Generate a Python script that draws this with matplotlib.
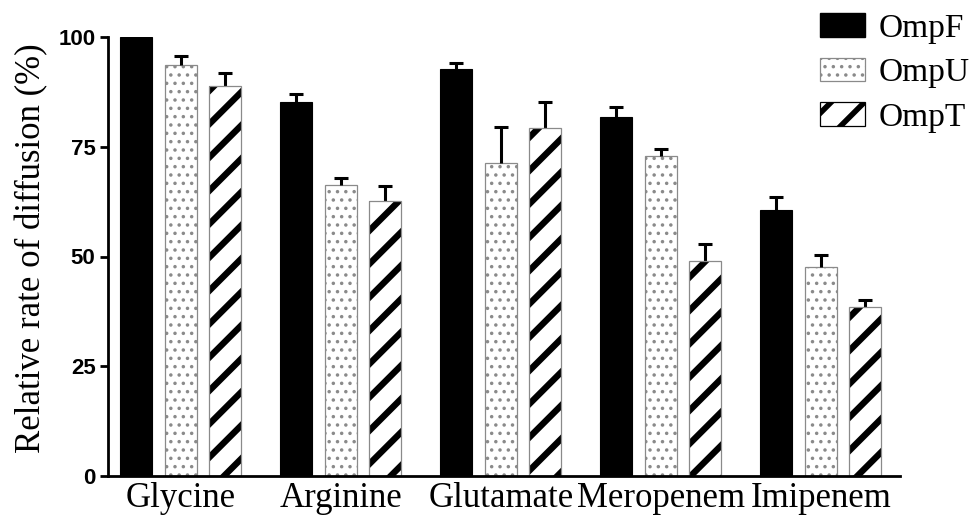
import matplotlib
matplotlib.use("Agg")
import matplotlib.pyplot as plt
import numpy as np
from matplotlib.patches import Patch

categories = ["Glycine", "Arginine", "Glutamate", "Meropenem", "Imipenem"]
series_names = ["OmpF", "OmpU", "OmpT"]

ompf = [100.0, 85.3, 92.7, 81.7, 60.7]
ompf_err = [0.0, 1.7, 1.3, 2.3, 2.9]
ompu = [93.6, 66.3, 71.4, 73.0, 47.5]
ompu_err = [2.1, 1.6, 8.0, 1.5, 2.9]
ompt = [88.8, 62.6, 79.2, 49.0, 38.6]
ompt_err = [2.9, 3.5, 6.0, 3.8, 1.5]

yticks = [0, 25, 50, 75, 100]

fig = plt.figure(figsize=(9.74, 5.17), dpi=100)
ax = fig.add_axes([108 / 974, 1 - 476 / 517, 792 / 974, (476 - 37) / 517])

x = np.arange(len(categories))
offset = 0.278
width = 0.2
err_kw = dict(ecolor="black", elinewidth=2.2, capsize=5, capthick=2.2)


def upper(err):
    return [np.zeros(len(err)), np.asarray(err)]


def drop_lower_caps(container, values):
    # only the upward half of each error bar is shown
    caplines = container.errorbar.lines[1]
    for cl in caplines:
        if np.allclose(cl.get_ydata(), values):
            cl.set_visible(False)


def set_hlw(patches, lw):
    for p in patches:
        if hasattr(p, "set_hatch_linewidth"):
            p.set_hatch_linewidth(lw)


# OmpF: solid black bars
b1 = ax.bar(x - offset, ompf, width, color="black", edgecolor="black",
            linewidth=0.8, yerr=upper(ompf_err), error_kw=err_kw, zorder=2)
drop_lower_caps(b1, ompf)

# OmpU: white bars with grey dots
with plt.rc_context({"hatch.linewidth": 1.3}):
    b2 = ax.bar(x, ompu, width, color="white", edgecolor="#8a8a8a",
                linewidth=0.9, hatch="..", yerr=upper(ompu_err),
                error_kw=err_kw, zorder=2)
set_hlw(b2, 1.3)
drop_lower_caps(b2, ompu)

# OmpT: white bars with thick black diagonal stripes, grey outline
with plt.rc_context({"hatch.linewidth": 4.6}):
    b3 = ax.bar(x + offset, ompt, width, color="white", edgecolor="black",
                linewidth=0, hatch="/", yerr=upper(ompt_err),
                error_kw=err_kw, zorder=2)
set_hlw(b3, 4.6)
drop_lower_caps(b3, ompt)
ax.bar(x + offset, ompt, width, fill=False, edgecolor="#8a8a8a",
       linewidth=0.9, zorder=2.1)

ax.set_xlim(-0.456, 4.494)
ax.set_ylim(0, 100)
ax.set_yticks(yticks)
ax.set_yticklabels([str(t) for t in yticks], fontfamily="Liberation Sans",
                   fontweight="bold", fontsize=16)
ax.set_xticks(x)
ax.set_xticklabels(categories, fontfamily="Liberation Serif", fontsize=25)
ax.tick_params(axis="x", length=0, pad=4)
ax.tick_params(axis="y", length=6, width=2, pad=3)

for side in ("top", "right"):
    ax.spines[side].set_visible(False)
for side in ("left", "bottom"):
    ax.spines[side].set_linewidth(2)

ax.set_ylabel("Relative rate of diffusion (%)", fontfamily="Liberation Serif",
              fontsize=25)
ax.yaxis.set_label_coords(-0.075, 0.52)

# Legend swatches
h1 = Patch(facecolor="black", edgecolor="black")
h2 = Patch(facecolor="white", edgecolor="#8a8a8a", hatch="..", linewidth=0.9)
h3 = Patch(facecolor="white", edgecolor="black", hatch="/", linewidth=0.9)
leg = fig.legend([h1, h2, h3], series_names, loc="upper left",
                 bbox_to_anchor=(820 / 974, 1 - 13 / 517), frameon=False,
                 prop={"family": "Liberation Serif", "size": 24},
                 handlelength=1.36, handleheight=0.72, handletextpad=0.4,
                 labelspacing=0.42, borderpad=0, borderaxespad=0)
lp = leg.get_patches()
set_hlw([lp[1]], 1.3)
set_hlw([lp[2]], 4.0)
lp[2].set_edgecolor("black")

fig.savefig("out.png", dpi=100)
